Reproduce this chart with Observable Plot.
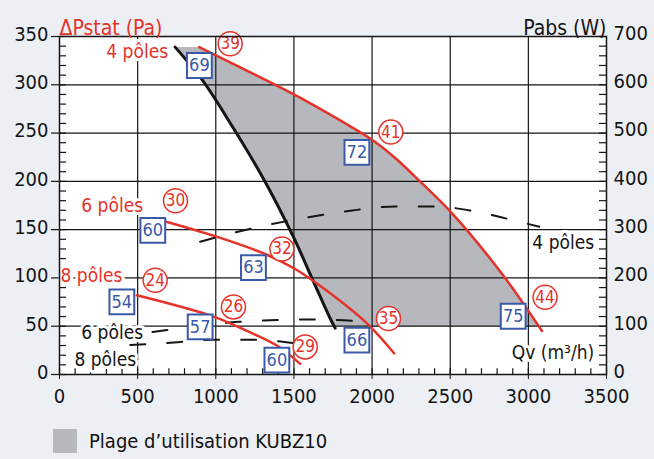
<!DOCTYPE html>
<html><head><meta charset="utf-8">
<script src="https://cdn.jsdelivr.net/npm/d3@7"></script>
<script src="https://cdn.jsdelivr.net/npm/@observablehq/plot@0.6"></script>
<style>
body{margin:0;background:#eceff4;width:654px;height:459px;overflow:hidden;font-family:"Liberation Sans Narrow","DejaVu Sans Condensed",sans-serif;}
#chart{position:absolute;left:0;top:0}
#legend{position:absolute;left:53px;top:429px;display:flex;align-items:center;font-size:20px;color:#111;line-height:24px}
#legend .sw{display:inline-block;width:24px;height:24px;background:#b6b8bd;margin-right:12px}
</style></head><body>
<div id="chart"></div>
<div id="legend"><span class="sw"></span><span>Plage d’utilisation KUBZ10</span></div>
<script>
// ---- data (Qv m3/h, ΔPstat Pa) ----
const xTicks = [0, 500, 1000, 1500, 2000, 2500, 3000, 3500];
const yTicks = [0, 50, 100, 150, 200, 250, 300, 350];
const yRightTicks = [0, 100, 200, 300, 400, 500, 600, 700];
const xMinor = d3.range(0, 3501, 100);
const yMinor = d3.range(0, 351, 10);

const curve4Poles = [[894,339],[1369,301],[1500,290],[1668,275],[1839,259],[2000,243],[2150,224],[2300,201],[2500,169],[2615,148],[2860,98],[3087,45]];
const curve6Poles = [[666,159],[1000,143],[1327,124],[1500,110],[1700,88],[1967,53],[2141,22]];
const curve8Poles = [[495,82],[985,60],[1188,46],[1391,30],[1540,11]];
const limitCurve = [[740,339],[913,305],[1105,257],[1304,203],[1495,143],[1623,97],[1732,58],[1764,48]];
const zoneCorners = [[3066,50],[1758,50]];

// absorbed power (W, right axis)
const power4Poles = [[900,275],[1135,295],[1476,319],[1732,333],[1860,339],[2148,348],[2404,348],[2639,339],[2884,321],[3070,306]];
const power6Poles = [[595,88],[751,95],[1145,109],[1636,114],[1967,109]];
const power8Poles = [[453,61],[687,65],[985,72],[1241,72],[1497,65]];

const circleMarks = [
  {x:1092,y:342.5,t:"39"},{x:2120,y:251,t:"41"},{x:3107,y:80,t:"44"},
  {x:742,y:180,t:"30"},{x:1423,y:130,t:"32"},{x:2105,y:58,t:"35"},
  {x:612,y:97.6,t:"24"},{x:1113,y:70,t:"26"},{x:1572,y:28.6,t:"29"}];
const boxMarks = [
  {x:895,y:320,t:"69"},{x:1903,y:230,t:"72"},{x:2903,y:60.3,t:"75"},
  {x:597,y:149.3,t:"60"},{x:1241,y:110.7,t:"63"},{x:1903,y:35.5,t:"66"},
  {x:399,y:75.2,t:"54"},{x:900,y:49.3,t:"57"},{x:1391,y:14.8,t:"60"}];

const redLabels = [{x:695,y:334,t:"4 pôles"},{x:535,y:175,t:"6 pôles"},{x:402,y:101.8,t:"8 pôles"}];
const blackLabels = [{x:535,y:42.8,t:"6 pôles"},{x:491,y:14.8,t:"8 pôles"},{x:3421,y:136,t:"4 pôles"},{x:3421,y:22,t:"Qv (m³/h)"}];

// ---- chart ----
const F = '"Liberation Sans Narrow","DejaVu Sans Condensed",sans-serif';
const red = "#e5332a", blue = "#3a59a8", gray = "#b6b8bd", ink = "#151515";
const X = d => d[0], Y = d => d[1], YW = d => d[1] / 2;
const zone = [...curve4Poles.filter(d => d[1] >= 50), ...zoneCorners, ...limitCurve.filter(d => d[1] > 50).reverse()];

const chart = Plot.plot({
  width: 654, height: 414,
  marginLeft: 59, marginRight: 48, marginTop: 36, marginBottom: 40,
  style: {background: "transparent", fontFamily: F, color: ink},
  x: {domain: [0, 3500]},
  y: {domain: [0, 350]},
  marks: [
    Plot.frame({fill: "white", stroke: null}),
    Plot.line(zone, {x: X, y: Y, fill: gray, stroke: null, curve: "linear-closed"}),
    Plot.ruleX(xTicks.slice(1, -1), {stroke: ink, strokeWidth: 1.2}),
    Plot.ruleY(yTicks.slice(1, -1), {stroke: ink, strokeWidth: 1.2}),
    Plot.ruleY(yTicks, {y: d => d, x1: -51, x2: 0, stroke: ink, strokeWidth: 1.2}),
    Plot.ruleY(yMinor, {y: d => d, x1: 0, x2: 45, stroke: ink, strokeWidth: 1.2}),
    Plot.ruleY(yMinor, {y: d => d, x1: 3455, x2: 3500, stroke: ink, strokeWidth: 1.2}),
    Plot.ruleX(xMinor, {x: d => d, y1: 0, y2: 6, stroke: ink, strokeWidth: 1.2}),
    Plot.line(power4Poles, {x: X, y: YW, stroke: ink, strokeWidth: 2, strokeDasharray: "15,22", curve: "monotone-x"}),
    Plot.line(power6Poles, {x: X, y: YW, stroke: ink, strokeWidth: 2, strokeDasharray: "15,22", curve: "monotone-x"}),
    Plot.line(power8Poles, {x: X, y: YW, stroke: ink, strokeWidth: 2, strokeDasharray: "15,22", curve: "monotone-x"}),
    Plot.line(limitCurve, {x: X, y: Y, stroke: ink, strokeWidth: 3, curve: "catmull-rom"}),
    Plot.line(curve4Poles, {x: X, y: Y, stroke: red, strokeWidth: 2.5, curve: "catmull-rom"}),
    Plot.line(curve6Poles, {x: X, y: Y, stroke: red, strokeWidth: 2.5, curve: "catmull-rom"}),
    Plot.line(curve8Poles, {x: X, y: Y, stroke: red, strokeWidth: 2.5, curve: "catmull-rom"}),
    Plot.text(redLabels, {x: "x", y: "y", text: "t", fill: red, textAnchor: "end", fontSize: 19, stroke: "white", strokeWidth: 6, paintOrder: "stroke"}),
    Plot.text(blackLabels, {x: "x", y: "y", text: "t", fill: ink, textAnchor: "end", fontSize: 19, stroke: "white", strokeWidth: 6, paintOrder: "stroke"}),
    Plot.dot(circleMarks, {x: "x", y: "y", r: 12, fill: "white", stroke: red, strokeWidth: 1.5}),
    Plot.text(circleMarks, {x: "x", y: "y", text: "t", fill: red, fontSize: 17}),
    Plot.dot(boxMarks, {x: "x", y: "y", symbol: "square", r: 14, fill: "white", stroke: blue, strokeWidth: 2}),
    Plot.text(boxMarks, {x: "x", y: "y", text: "t", fill: blue, fontSize: 18}),
    Plot.frame({stroke: ink, strokeWidth: 1.5}),
    Plot.axisY(yTicks, {anchor: "left", tickSize: 0, tickPadding: 11, fontSize: 20, label: null, dy: -2, tickFormat: d => String(d)}),
    Plot.axisY(yTicks, {anchor: "right", tickSize: 0, tickPadding: 7, fontSize: 20, label: null, dy: -3,
      tickFormat: d => String(yRightTicks[yTicks.indexOf(d)])}),
    Plot.axisX(xTicks, {anchor: "bottom", tickSize: 5, tickPadding: 9, fontSize: 20, label: null, tickFormat: d => String(d)}),
    Plot.text(["ΔPstat (Pa)"], {frameAnchor: "top-left", dy: -16, textAnchor: "start", fill: red, fontSize: 21}),
    Plot.text(["Pabs (W)"], {frameAnchor: "top-right", dy: -16, textAnchor: "end", fill: ink, fontSize: 21})
  ]
});
document.getElementById("chart").appendChild(chart);
</script>
</body></html>
